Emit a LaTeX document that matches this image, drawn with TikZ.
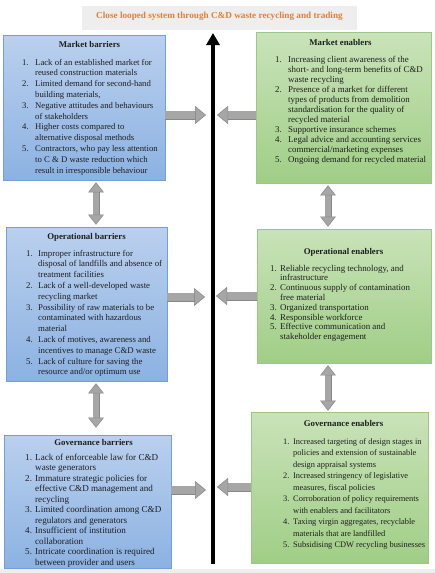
\documentclass[tikz,border=0pt]{standalone}
\usepackage{fontspec}
\setmainfont{Liberation Serif}
\usetikzlibrary{arrows.meta}
\definecolor{bluetop}{HTML}{BAD0EE}
\definecolor{bluebot}{HTML}{8CB2E2}
\definecolor{blueedge}{HTML}{729FD6}
\definecolor{greentop}{HTML}{C9E3B9}
\definecolor{greenbot}{HTML}{A0CE86}
\definecolor{greenedge}{HTML}{9CC883}
\definecolor{agray}{HTML}{A6A6A6}
\definecolor{aedge}{HTML}{878787}
\definecolor{ttlorange}{HTML}{ED7D31}
\definecolor{ttlbg}{HTML}{EEEEEE}
\definecolor{txt}{HTML}{1E1E1E}
\newcommand{\nlist}[2]{\begin{tabular}[t]{@{}p{#1}@{}l@{}}#2\end{tabular}}
\tikzset{
  bluebox/.style={rectangle, inner sep=0pt, draw=blueedge, line width=0.6pt, top color=bluetop, bottom color=bluebot},
  greenbox/.style={rectangle, inner sep=0pt, draw=greenedge, line width=0.6pt, top color=greentop, bottom color=greenbot},
  boxtitle/.style={inner sep=0pt, anchor=base, text=txt, font=\bfseries\fontsize{8.8}{10}\selectfont},
  listnode/.style={inner sep=0pt, anchor=base west, text=txt},
  htip/.tip={Triangle[length=11pt, width=18pt, line width=0.5pt, fill=agray, color=aedge]},
  vtip/.tip={Triangle[length=10pt, width=15.5pt, line width=0.5pt, fill=agray, color=aedge]},
  harrow/.style={draw=agray, line width=8pt, -{htip},
    preaction={draw=aedge, line width=9pt, arrows=-, shorten >=9pt}},
  varrow/.style 2 args={draw=agray, line width=6pt, {vtip}-{vtip}, shorten <=#1, shorten >=#2,
    preaction={draw=aedge, line width=7pt, arrows=-, shorten <=#1+8pt, shorten >=#2+8pt}},
  axisline/.style={draw=black, line width=3.5pt, -{Triangle[length=12pt, width=13pt]}},
}
\begin{document}
\begin{tikzpicture}[x=1pt, y=-1pt]
\useasboundingbox (0,0) rectangle (435,573);
\fill[white] (0,0) rectangle (435,573);
\fill[ttlbg] (0,569) rectangle (435,573);

% title
\node[rectangle, fill=ttlbg, minimum width=275pt, minimum height=24pt, inner sep=0pt] (ttlbox) at (219.5,18) {};
\node[inner sep=0pt, anchor=base, text=ttlorange, font=\bfseries\fontsize{9.2}{10}\selectfont] (ttl) at (219.5,18.3) {Close looped system through C\&D waste recycling and trading};

% boxes
\node[bluebox, minimum width=162pt, minimum height=145pt] (mb) at (84,107.5) {};
\node[greenbox, minimum width=175pt, minimum height=151pt] (me) at (343.5,107.5) {};
\node[bluebox, minimum width=161pt, minimum height=154pt] (ob) at (86.5,304) {};
\node[greenbox, minimum width=174pt, minimum height=134pt] (oe) at (344,296) {};
\node[bluebox, minimum width=167pt, minimum height=133pt] (gb) at (87.5,501.5) {};
\node[greenbox, minimum width=177pt, minimum height=151pt] (ge) at (339.5,487.5) {};

% Market barriers
\node[boxtitle] (mbt) at (89.5,47) {Market barriers};
\node[listnode, font=\fontsize{8.7}{10.8}\selectfont] (mbl) at (22,65) {\nlist{13pt}{%
1. & Lack of an established market for\\
   & reused construction materials\\
2. & Limited demand for second-hand\\
   & building materials,\\
3. & Negative attitudes and behaviours\\
   & of stakeholders\\
4. & Higher costs compared to\\
   & alternative disposal methods\\
5. & Contractors, who pay less attention\\
   & to C \& D waste reduction which\\
   & result in irresponsible behaviour}};

% Market enablers
\node[boxtitle] (met) at (340.5,45) {Market enablers};
\node[listnode, font=\fontsize{8.9}{10}\selectfont] (mel) at (275,62) {\nlist{13pt}{%
1. & Increasing client awareness of the\\
   & short- and long-term benefits of C\&D\\
   & waste recycling\\
2. & Presence of a market for different\\
   & types of products from demolition\\
   & standardisation for the quality of\\
   & recycled material\\
3. & Supportive insurance schemes\\
4. & Legal advice and accounting services\\
   & commercial/marketing expenses\\
5. & Ongoing demand for recycled material}};

% Operational barriers
\node[boxtitle] (obt) at (86.5,239) {Operational barriers};
\node[listnode, font=\fontsize{8.8}{10.8}\selectfont] (obl) at (26,256) {\nlist{12pt}{%
1. & Improper infrastructure for\\
   & disposal of landfills and absence of\\
   & treatment facilities\\
2. & Lack of a well-developed waste\\
   & recycling market\\
3. & Possibility of raw materials to be\\
   & contaminated with hazardous\\
   & material\\
4. & Lack of motives, awareness and\\
   & incentives to manage C\&D waste\\
5. & Lack of culture for saving the\\
   & resource and/or optimum use}};

% Operational enablers
\node[boxtitle] (oet) at (343.5,254) {Operational enablers};
\node[listnode, font=\fontsize{8.9}{9.8}\selectfont] (oel) at (270,271) {\nlist{10pt}{%
1. & Reliable recycling technology, and\\
   & infrastructure\\
2. & Continuous supply of contamination\\
   & free material\\
3. & Organized transportation\\
4. & Responsible workforce\\
5. & Effective communication and\\
   & stakeholder engagement}};

% Governance barriers
\node[boxtitle] (gbt) at (93.5,445) {Governance barriers};
\node[listnode, font=\fontsize{9.1}{10.5}\selectfont] (gbl) at (25,460) {\nlist{10pt}{%
1. & Lack of enforceable law for C\&D\\
   & waste generators\\
2. & Immature strategic policies for\\
   & effective C\&D management and\\
   & recycling\\
3. & Limited coordination among C\&D\\
   & regulators and generators\\
4. & Insufficient of institution\\
   & collaboration\\
5. & Intricate coordination is required\\
   & between provider and users}};

% Governance enablers
\node[boxtitle] (get) at (343.5,426) {Governance enablers};
\node[listnode, font=\fontsize{8.4}{11.5}\selectfont] (gel) at (283,444) {\nlist{10pt}{%
1. & Increased targeting of design stages in\\
   & policies and extension of sustainable\\
   & design appraisal systems\\
2. & Increased stringency of legislative\\
   & measures, fiscal policies\\
3. & Corroboration of policy requirements\\
   & with enablers and facilitators\\
4. & Taxing virgin aggregates, recyclable\\
   & materials that are landfilled\\
5. & Subsidising CDW recycling businesses}};

% central axis
\coordinate (axbot) at (213,564);
\coordinate (axtop) at (213,33);
\draw[axisline] (axbot) -- (axtop);

% horizontal arrows towards the axis
\coordinate (mbx) at (206,115);
\coordinate (mex) at (217,115);
\coordinate (obx) at (205,297);
\coordinate (oex) at (216,296);
\coordinate (gbx) at (206,490);
\coordinate (gex) at (217,487);
\draw[harrow] (mb.east |- mbx) -- (mbx);
\draw[harrow] (me.west |- mex) -- (mex);
\draw[harrow] (ob.east |- obx) -- (obx);
\draw[harrow] (oe.west |- oex) -- (oex);
\draw[harrow] (gb.east |- gbx) -- (gbx);
\draw[harrow] (ge.west |- gex) -- (gex);

% vertical double arrows
\coordinate (vl) at (96,300);
\coordinate (vr) at (328,300);
\draw[varrow={2pt}{2pt}] (mb.south -| vl) -- (ob.north -| vl);
\draw[varrow={2pt}{7pt}] (ob.south -| vl) -- (gb.north -| vl);
\draw[varrow={2pt}{2pt}] (me.south -| vr) -- (oe.north -| vr);
\draw[varrow={2pt}{1pt}] (oe.south -| vr) -- (ge.north -| vr);
\end{tikzpicture}
\end{document}
